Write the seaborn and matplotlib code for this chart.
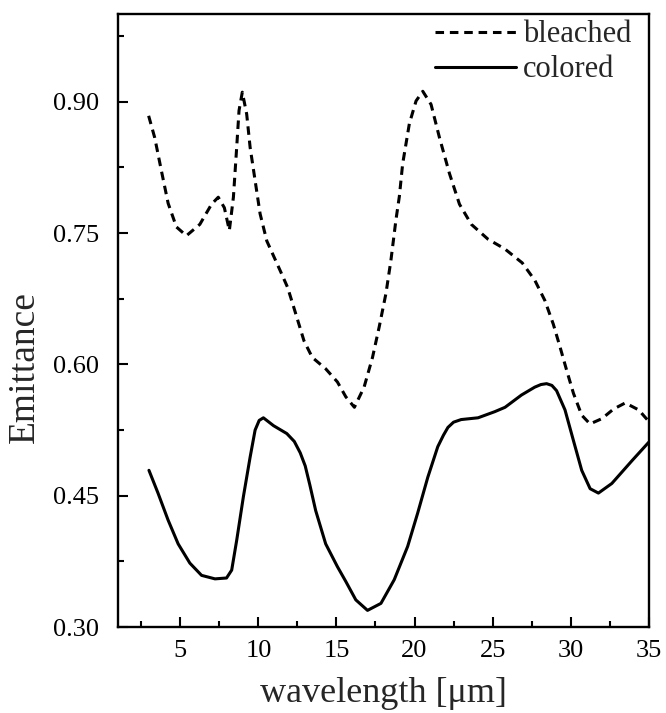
import numpy as np
import pandas as pd
import matplotlib
matplotlib.use("Agg")
import matplotlib.pyplot as plt
import seaborn as sns

# bleached film (dashed)
bleached_x = [2.97, 3.36, 3.79, 4.22, 4.75, 5.39, 6.25, 7.0, 7.43, 7.82, 8.14, 8.40, 8.61, 8.76, 8.97,
              9.25, 9.47, 9.79, 10.11, 10.54, 11.5, 11.87, 12.27, 12.92, 13.45, 14.31, 15.06, 15.6,
              16.15, 16.77, 17.31, 17.74, 18.17, 18.49, 18.81, 19.03, 19.24, 19.67, 20.1, 20.53,
              21.06, 21.6, 22.24, 22.88, 23.64, 24.71, 25.78, 26.9, 27.71, 28.35, 28.89, 29.32,
              29.75, 30.18, 30.71, 31.24, 32.0, 32.75, 33.5, 34.36, 35.0]
bleached_y = [0.884, 0.859, 0.821, 0.784, 0.757, 0.747, 0.760, 0.783, 0.791, 0.779, 0.753, 0.791, 0.848,
              0.890, 0.911, 0.886, 0.848, 0.810, 0.772, 0.741, 0.703, 0.688, 0.665, 0.627, 0.608,
              0.595, 0.580, 0.563, 0.551, 0.574, 0.608, 0.643, 0.681, 0.719, 0.765, 0.792, 0.829,
              0.875, 0.901, 0.912, 0.897, 0.859, 0.818, 0.783, 0.760, 0.743, 0.732, 0.716, 0.696,
              0.673, 0.646, 0.620, 0.593, 0.567, 0.542, 0.532, 0.538, 0.549, 0.556, 0.548, 0.535]

# colored film (solid)
colored_x = [2.99, 3.57, 4.22, 4.86, 5.61, 6.36, 7.22, 7.96, 8.29, 8.61, 9.04, 9.47, 9.79, 10.05, 10.32,
             10.97, 11.82, 12.3, 12.68, 13.0, 13.3, 13.67, 14.31, 15.06, 15.6, 16.24, 16.99, 17.85,
             18.7, 19.56, 20.2, 20.85, 21.49, 21.85, 22.14, 22.5, 22.99, 24.07, 25.14, 25.8, 26.85,
             27.7, 28.1, 28.46, 28.8, 29.1, 29.64, 30.18, 30.71, 31.25, 31.78, 32.64, 33.93, 35.0]
colored_y = [0.479, 0.453, 0.422, 0.395, 0.373, 0.359, 0.355, 0.356, 0.365, 0.399, 0.449, 0.494, 0.525,
             0.536, 0.539, 0.530, 0.521, 0.512, 0.499, 0.484, 0.462, 0.433, 0.395, 0.369, 0.352,
             0.331, 0.319, 0.327, 0.354, 0.392, 0.430, 0.471, 0.506, 0.519, 0.528, 0.534, 0.537,
             0.539, 0.546, 0.551, 0.565, 0.574, 0.577, 0.578, 0.576, 0.570, 0.548, 0.513, 0.479,
             0.458, 0.453, 0.464, 0.490, 0.511]

x_ticks = [5, 10, 15, 20, 25, 30, 35]
y_ticks = [0.30, 0.45, 0.60, 0.75, 0.90]

sns.set_style("ticks")
plt.rcParams["font.family"] = ["Liberation Serif", "DejaVu Serif"]

fig = plt.figure(figsize=(6.66, 7.13), dpi=100)
ax = fig.add_axes([0.177, 0.1206, 0.797, 0.8594])

sns.lineplot(x=bleached_x, y=bleached_y, ax=ax, color="black", lw=2.2, label="bleached")
ax.lines[-1].set_dashes((2.8, 1.9))
sns.lineplot(x=colored_x, y=colored_y, ax=ax, color="black", lw=2.2, label="colored")

ax.set_xlim(1, 35)
ax.set_ylim(0.30, 1.0)
ax.set_xticks(x_ticks)
ax.set_yticks(y_ticks)
ax.set_yticklabels([f"{v:.2f}" for v in y_ticks])
ax.set_xticks(np.arange(2.5, 35, 5), minor=True)
ax.set_yticks(np.arange(0.375, 1.0, 0.15), minor=True)

ax.tick_params(which="both", direction="in", width=1.5, labelsize=19, colors="black")
ax.tick_params(which="major", length=7)
ax.tick_params(which="minor", length=4)
ax.tick_params(axis="y", which="major", pad=13.5)
ax.tick_params(axis="x", which="major", pad=9)
for s in ax.spines.values():
    s.set_linewidth(1.7)
    s.set_color("black")

ax.set_xlabel("wavelength [μm]", fontsize=26)
ax.set_ylabel("Emittance", fontsize=27)
ax.xaxis.set_label_coords(0.5, -0.109)
ax.xaxis.label.set_va("center")
ax.yaxis.set_label_coords(-0.175, 0.424)
ax.yaxis.label.set_va("center")

handles, labels = ax.get_legend_handles_labels()
leg = ax.legend(handles, labels, loc="upper right", frameon=False, fontsize=22,
                handlelength=2.65, handletextpad=0.22, labelspacing=0.2,
                borderaxespad=0.0, bbox_to_anchor=(0.99, 1.01))

fig.savefig("out.png", dpi=100)
